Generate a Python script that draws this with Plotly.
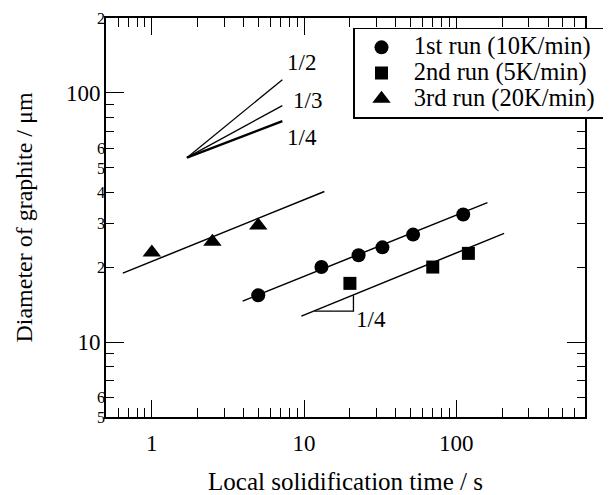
import plotly.graph_objects as go
import math

FONT = "Liberation Serif, Times New Roman, serif"

# Data points
run1_x = [5.0, 13.0, 22.8, 32.7, 52.0, 111.0]
run1_y = [15.4, 20.0, 22.3, 24.0, 27.0, 32.5]
run2_x = [20.0, 70.0, 120.0]
run2_y = [17.2, 20.0, 22.7]
run3_x = [1.0, 2.5, 5.0]
run3_y = [22.9, 25.3, 29.4]

# Fitted lines (slope 1/4)
fit1_x = [3.95, 160.0]
fit1_y = [14.6, 36.3]
fit2_x = [9.6, 206.0]
fit2_y = [12.7, 27.3]
fit3_x = [0.645, 13.6]
fit3_y = [18.9, 40.2]

# Reference slope fan
fan_x = [1.7, 7.2]
fan_half_y = [55.0, 113.0]
fan_third_y = [55.0, 89.0]
fan_quarter_y = [55.0, 77.0]

# Slope triangle
tri_leg_x = [11.7, 21.1, 21.1]
tri_leg_y = [13.3, 13.3, 15.4]

# Small y tick labels (as printed in the figure)
y_small = [5, 6, 20, 30, 40, 50, 60, 200]
y_small_text = ["5", "6", "2", "3", "4", "5", "6", "2"]

series_names = ["1st run (10K/min)", "2nd run (5K/min)", "3rd run (20K/min)"]

fig = go.Figure()

def line(x, y, w=1.5, yax="y"):
    fig.add_trace(go.Scatter(x=x, y=y, mode="lines", line=dict(color="black", width=w),
                             showlegend=False, hoverinfo="skip", yaxis=yax))

line(fit1_x, fit1_y)
line(fit2_x, fit2_y)
line(fit3_x, fit3_y, yax="y2")
line(fan_x, fan_half_y, 1.3)
line(fan_x, fan_third_y, 1.3)
line(fan_x, fan_quarter_y, 2.4)
line(tri_leg_x, tri_leg_y, 1.3)

def lname(s):
    return '<span style="font-size:24.5px">\u00a0\u00a0' + s + '\u00a0</span>'

fig.add_trace(go.Scatter(x=run1_x, y=run1_y, mode="markers", name=lname(series_names[0]),
                         marker=dict(symbol="circle", size=14, color="black")))
fig.add_trace(go.Scatter(x=run2_x, y=run2_y, mode="markers", name=lname(series_names[1]),
                         marker=dict(symbol="square", size=13, color="black")))
fig.add_trace(go.Scatter(x=run3_x, y=run3_y, mode="markers", name=lname(series_names[2]),
                         marker=dict(symbol="triangle-up", size=16, color="black")))

ann = [("1/2", 9.63, 133.0), ("1/3", 10.5, 93.5), ("1/4", 9.63, 66.5), ("1/4", 27.7, 12.3)]
for t, x, y in ann:
    fig.add_annotation(x=math.log10(x), y=math.log10(y), text=t, showarrow=False,
                       font=dict(family=FONT, size=23, color="black"))

tick_common = dict(ticks="inside", tickwidth=1.4, tickcolor="black",
                   showline=True, linecolor="black", linewidth=1.6, mirror="ticks",
                   showgrid=False, zeroline=False)

# page body has an 8px margin, so the figure is offset by (8, 8)
fig.update_layout(
    width=603, height=487,
    margin=dict(l=98, r=26, t=10, b=78, autoexpand=False),
    paper_bgcolor="white", plot_bgcolor="white",
    font=dict(family=FONT, color="black"),
    xaxis=dict(type="log", range=[math.log10(0.5), math.log10(700)],
               tickmode="linear", tick0=0, dtick=1, ticklen=17,
               minor=dict(dtick="D1", ticks="inside", ticklen=9, tickwidth=1.4, tickcolor="black"),
               tickfont=dict(family=FONT, size=23), ticklabelstandoff=5,
               title=dict(text="Local solidification time / s", font=dict(family=FONT, size=25), standoff=17),
               **tick_common),
    yaxis=dict(type="log", range=[math.log10(5), math.log10(200)],
               tickmode="linear", tick0=0, dtick=1, ticklen=18,
               minor=dict(dtick="D1", ticks="inside", ticklen=8, tickwidth=1.4, tickcolor="black"),
               tickfont=dict(family=FONT, size=23), ticklabelstandoff=-1,
               title=dict(text="Diameter of graphite / \u03bcm", font=dict(family=FONT, size=24), standoff=27),
               **tick_common),
    yaxis2=dict(type="log", range=[math.log10(5), math.log10(200)], overlaying="y", side="left",
                anchor="x", tickmode="array", tickvals=y_small, ticktext=y_small_text, ticks="",
                showline=False, showgrid=False, zeroline=False,
                tickfont=dict(family=FONT, size=16), ticklabelstandoff=0),
    legend=dict(x=(608 - 106) / 479, xanchor="right", y=0.975, yanchor="top",
                bgcolor="white", bordercolor="black", borderwidth=1.5,
                font=dict(family=FONT, size=17.5), indentation=7),
    showlegend=True,
)

fig.write_html("out.html")
